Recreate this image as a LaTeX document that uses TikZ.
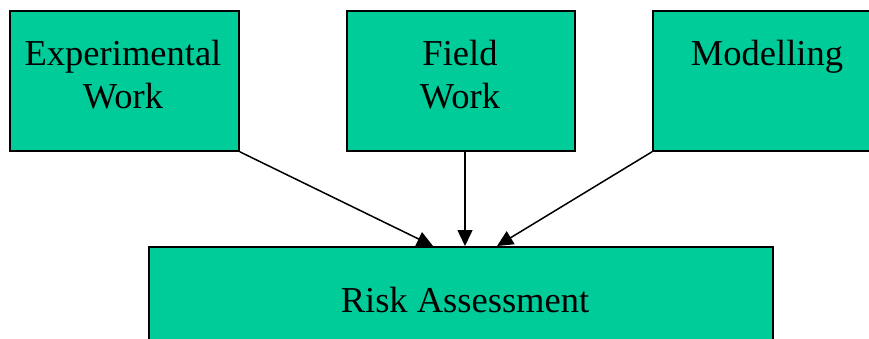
\documentclass[tikz,border=0pt]{standalone}
\usepackage{fontspec}
\setmainfont{Liberation Serif}
\usetikzlibrary{arrows.meta}
\definecolor{boxgreen}{HTML}{00CC99}
\begin{document}
\begin{tikzpicture}[x=1pt,y=-1pt,
  box/.style={draw=black,fill=boxgreen,line width=1.8pt,inner sep=0pt,anchor=north west},
  lbl/.style={font=\fontsize{36.5}{42.5}\selectfont,anchor=base,inner sep=0pt},
  conn/.style={line width=1.5pt,-{Triangle[length=16pt,width=15pt]}}]
\useasboundingbox (0,0) rectangle (869,338);
\clip (0,0) rectangle (869,338);
\node[box,minimum width=229pt,minimum height=140pt] (exp) at (9,10) {};
\node[box,minimum width=228pt,minimum height=140pt] (field) at (346,10) {};
\node[box,minimum width=230pt,minimum height=140pt] (mod) at (652,10) {};
\node[box,minimum width=624pt,minimum height=120pt] (risk) at (148,246) {};
\node[lbl] (t1a) at (123,65) {Experimental};
\node[lbl] (t1b) at (123,108) {Work};
\node[lbl] (t2a) at (460,65) {Field};
\node[lbl] (t2b) at (460,108) {Work};
\node[lbl] (t3) at (767,65) {Modelling};
\node[lbl] (t4) at (465,312) {Risk Assessment};
\coordinate (r1) at (433,246);
\coordinate (r2) at (465,246);
\coordinate (r3) at (497,246);
\draw[conn] (exp.south east) -- (r1);
\draw[conn] (field.south -| r2) -- (r2);
\draw[conn] (mod.south west) -- (r3);
\end{tikzpicture}
\end{document}
